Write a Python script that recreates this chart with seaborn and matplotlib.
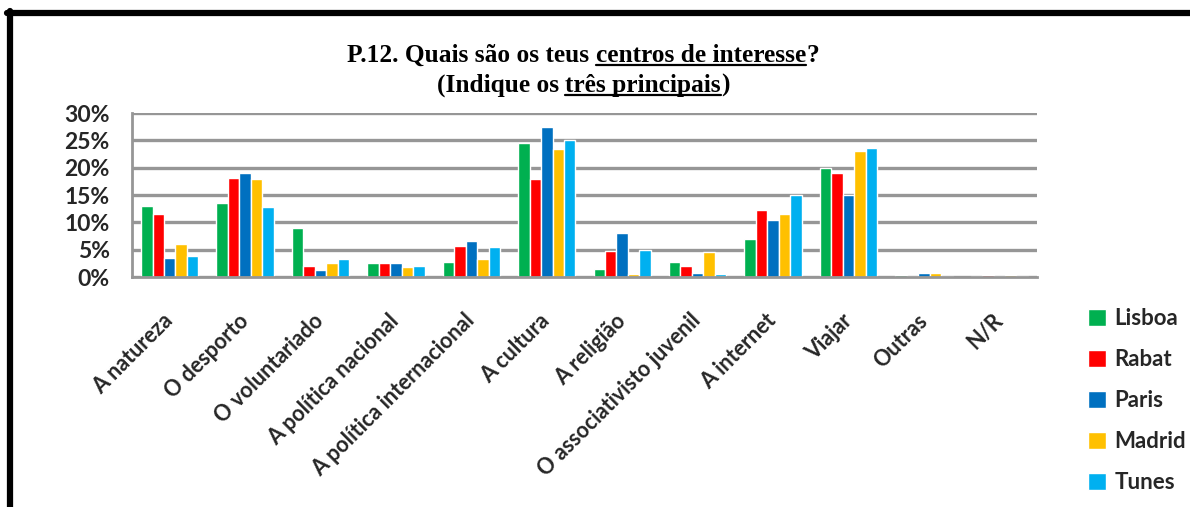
import matplotlib
matplotlib.use("Agg")
import pandas as pd
import matplotlib.pyplot as plt
import seaborn as sns
from matplotlib.lines import Line2D
from matplotlib.patches import Patch

categorias = ["A natureza", "O desporto", "O voluntariado", "A política nacional",
              "A política internacional", "A cultura", "A religião",
              "O associativisto juvenil", "A internet", "Viajar", "Outras", "N/R"]
lisboa = [13.0, 13.5, 8.9, 2.5, 2.8, 24.5, 1.5, 2.8, 7.0, 20.0, 0.3, 0.1]
rabat = [11.5, 18.2, 2.0, 2.6, 5.7, 18.0, 4.8, 2.0, 12.3, 19.0, 0.1, 0.3]
paris = [3.5, 19.0, 1.3, 2.5, 6.5, 27.5, 8.0, 0.8, 10.5, 15.0, 0.8, 0.1]
madrid = [6.0, 18.0, 2.5, 1.9, 3.3, 23.4, 0.6, 4.5, 11.5, 23.0, 0.8, 0.3]
tunes = [3.8, 12.8, 3.3, 2.0, 5.4, 25.0, 5.0, 0.5, 15.0, 23.6, 0.1, 0.1]
cidades = ["Lisboa", "Rabat", "Paris", "Madrid", "Tunes"]
cores = ["#00B050", "#FF0000", "#0070C0", "#FFC000", "#00B0F0"]

series = [lisboa, rabat, paris, madrid, tunes]
df = pd.DataFrame({
    "Categoria": categorias * len(cidades),
    "Cidade": [c for c in cidades for _ in categorias],
    "Valor": [v for s in series for v in s],
})

sns.set_theme(style="white")
plt.rcParams['font.family'] = ['Lato', 'DejaVu Sans']

W, H = 1190, 507
fig = plt.figure(figsize=(W / 100, H / 100), dpi=100)
ax = fig.add_axes([132 / W, 1 - 277 / H, 905 / W, 164 / H])

sns.barplot(data=df, x="Categoria", y="Valor", hue="Cidade", palette=cores,
            width=0.76, saturation=1, legend=False, ax=ax)

ax.set_xlim(-0.5, 11.5)
ax.set_ylim(0, 30)
ax.set_yticks(range(0, 31, 5))
ax.set_yticklabels([f"{v}%" for v in range(0, 31, 5)], fontsize=16.5, fontweight="bold")
ax.set_xticks(range(len(categorias)))
ax.set_xticklabels(categorias, rotation=45, ha="right", va="center", rotation_mode="anchor",
                   fontsize=15.5, fontweight="bold")
ax.set_xlabel("")
ax.set_ylabel("")
ax.tick_params(axis="y", pad=16, length=0)
ax.tick_params(axis="x", pad=29, length=0)
ax.yaxis.grid(True, color="#969696", lw=2.4)
ax.set_axisbelow(True)
for s in ["top", "right"]:
    ax.spines[s].set_visible(False)
for s in ["left", "bottom"]:
    ax.spines[s].set_color("#969696")
    ax.spines[s].set_linewidth(2)

# legenda
handles = [Patch(facecolor=c, label=n) for c, n in zip(cores, cidades)]
fig.legend(handles=handles, loc="upper left", bbox_to_anchor=(1068 / W, 1 - 288 / H),
           frameon=False, prop={"weight": "bold", "size": 16},
           handlelength=0.8, handleheight=0.8, handletextpad=0.4, labelspacing=0.9)

# moldura
fig.add_artist(Line2D([7 / W, 1], [1 - 12.5 / H, 1 - 12.5 / H], transform=fig.transFigure,
                      color="black", lw=4.5))
fig.add_artist(Line2D([10 / W, 10 / W], [0, 1 - 10.5 / H], transform=fig.transFigure,
                      color="black", lw=4.5))

# titulo com partes sublinhadas
renderer = fig.canvas.get_renderer()


def linha_titulo(pedacos, y_base, y_sub):
    textos = []
    for s, sub in pedacos:
        t = fig.text(0, 1 - y_base / H, s, family="Liberation Serif", fontweight="bold",
                     fontsize=18.3, ha="left", va="baseline", color="black")
        textos.append((t, sub))
    larguras = [t.get_window_extent(renderer).width for t, _ in textos]
    x = 583 - sum(larguras) / 2
    for (t, sub), w in zip(textos, larguras):
        t.set_x(x / W)
        if sub:
            fig.add_artist(Line2D([x / W, (x + w) / W], [1 - y_sub / H, 1 - y_sub / H],
                                  transform=fig.transFigure, color="black", lw=1.6))
        x += w


linha_titulo([("P.12. Quais são os teus ", False), ("centros de interesse", True), ("?", False)], 62, 65)
linha_titulo([("(Indique os ", False), ("três principais", True), (")", False)], 92, 95)

fig.savefig("out.png", dpi=100)
